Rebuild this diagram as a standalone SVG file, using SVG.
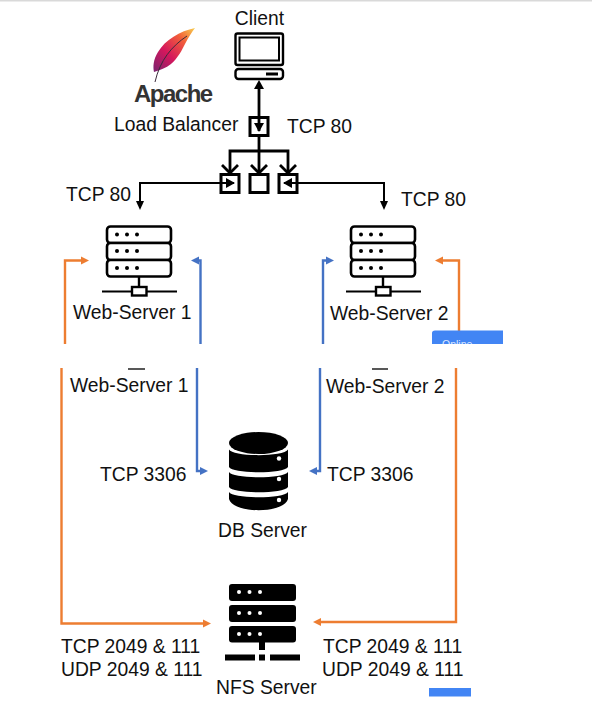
<svg xmlns="http://www.w3.org/2000/svg" width="592" height="713" viewBox="0 0 592 713">
<style>
text{font-family:"Liberation Sans",Arial,sans-serif;font-size:19.300px;fill:#111}
.k{fill:none;stroke:#000;stroke-width:2.800}
.bx{fill:#fff;stroke:#000;stroke-width:3}
.o{fill:none;stroke:#ed7d31;stroke-width:2.400}
.b{fill:none;stroke:#4472c4;stroke-width:2.400}
.dot{fill:#000}
.wd{fill:#fff}
.sb{fill:#000}
</style>
<defs>
<linearGradient id="fe" x1="1" y1="0" x2="0" y2="1">
<stop offset="0" stop-color="#f8d04e"/><stop offset=".28" stop-color="#f2603a"/><stop offset=".62" stop-color="#d5175c"/><stop offset="1" stop-color="#7a2470"/>
</linearGradient>
<g id="srv">
<rect x="1" y="1" width="64" height="16.500" rx="3.500" fill="#fff" stroke="#000" stroke-width="2.600"/>
<rect x="1" y="17.500" width="64" height="17" rx="3.500" fill="#fff" stroke="#000" stroke-width="2.600"/>
<rect x="1" y="34.500" width="64" height="16.500" rx="3.500" fill="#fff" stroke="#000" stroke-width="2.600"/>
<circle class="dot" cx="11" cy="9" r="2"/><circle class="dot" cx="21" cy="9" r="2"/><circle class="dot" cx="31" cy="9" r="2"/>
<circle class="dot" cx="11" cy="25.500" r="2"/><circle class="dot" cx="21" cy="25.500" r="2"/><circle class="dot" cx="31" cy="25.500" r="2"/>
<circle class="dot" cx="11" cy="42.500" r="2"/><circle class="dot" cx="21" cy="42.500" r="2"/><circle class="dot" cx="31" cy="42.500" r="2"/>
<path d="M33 51V62" stroke="#000" stroke-width="2.400" fill="none"/>
<path d="M-4 66H71" stroke="#000" stroke-width="2.200" fill="none"/>
<rect x="26" y="61.500" width="14.500" height="8.500" fill="#fff" stroke="#000" stroke-width="2.400"/>
</g>
</defs>
<rect width="592" height="713" fill="#fff"/>
<rect width="592" height="1.500" fill="#d9d9d9"/>

<g id="connectors">
<path class="k" d="M259 84V131"/>
<path d="M254 89L259 80L264 89Z" fill="#000"/>
<path d="M254 123L259 132L264 123Z" fill="#000"/>
<path class="k" d="M259 135V173M230 173V151H288V173"/>
<path class="k" d="M222 165L230 173L238 165M251 165L259 173L267 165M280 165L288 173L296 165"/>
<path class="k" style="stroke-width:2" d="M234 183H140V208"/>
<path d="M226 178L235 183L226 188Z" fill="#000"/>
<path d="M136 201L140 210L144 201Z" fill="#000"/>
<path class="k" style="stroke-width:2" d="M284 183H384V208"/>
<path d="M292 178L283 183L292 188Z" fill="#000"/>
<path d="M380 201L384 210L388 201Z" fill="#000"/>
<path class="o" d="M65 344V260.500H82"/><path d="M81 256.500L89 260.500L81 264.500Z" fill="#ed7d31"/>
<path class="b" d="M200.500 344V260.500H197"/><path d="M199 256.500L191 260.500L199 264.500Z" fill="#4472c4"/>
<path class="b" d="M323 344V260.500H327"/><path d="M326 256.500L334 260.500L326 264.500Z" fill="#4472c4"/>
<path class="o" d="M459 331V260.500H442"/><path d="M443 256.500L435 260.500L443 264.500Z" fill="#ed7d31"/>
<path class="o" d="M61.500 368V623.500H204"/><path d="M203 619.500L211 623.500L203 627.500Z" fill="#ed7d31"/>
<path class="b" d="M197 368V471H201"/><path d="M200 467L208 471L200 475Z" fill="#4472c4"/>
<path class="b" d="M320 368V471H316"/><path d="M317 467L309 471L317 475Z" fill="#4472c4"/>
<path class="o" d="M456 368V622H320"/><path d="M321 618L313 622L321 626Z" fill="#ed7d31"/>
<path d="M128 369H145M372 369H388" stroke="#222" stroke-width="1.600" fill="none"/>
</g>

<g id="client">
<text x="259.500" y="24.500" text-anchor="middle">Client</text>
<rect x="235.500" y="33.500" width="47.500" height="31.500" rx="2" fill="#fff" stroke="#000" stroke-width="2.400"/>
<rect x="239.500" y="37.500" width="39.500" height="23" fill="#fff" stroke="#000" stroke-width="2"/>
<rect x="235.500" y="69" width="47.500" height="10" rx="3" fill="#fff" stroke="#000" stroke-width="2.400"/>
<rect x="266" y="72.500" width="12" height="3" fill="#000"/>
</g>

<g id="apache">
<path d="M195 28C180 31 165 40 158 52C153 60 153 67 154 72C160 70 166 68 171 64C178 58 182 50 185 44C188 38 192 32 195 28Z" fill="url(#fe)"/>
<path d="M187 36C172 46 160 60 155 82" fill="none" stroke="#3a2a3a" stroke-width="1"/>
<text x="134" y="102" style="font-size:24px;font-weight:bold;letter-spacing:-1.500px;fill:#333">Apache</text>
</g>

<g id="load-balancer">
<text x="114" y="130.500">Load Balancer</text>
<rect class="bx" x="250" y="117.500" width="18" height="18" style="fill:none"/>
<text x="287" y="132.500">TCP 80</text>
</g>

<g id="switch-boxes">
<rect class="bx" x="221" y="174.500" width="18" height="18" style="fill:none"/>
<rect class="bx" x="250" y="174.500" width="18" height="18"/>
<rect class="bx" x="279" y="174.500" width="18" height="18" style="fill:none"/>
</g>
<text id="tcp80-left" x="66" y="200.500">TCP 80</text>
<text id="tcp80-right" x="401" y="205.500">TCP 80</text>

<g id="web-server-1">
<use href="#srv" x="106" y="225.500"/>
<text x="73" y="318.500">Web-Server 1</text>
<text x="70" y="391.500">Web-Server 1</text>
</g>

<g id="web-server-2">
<use href="#srv" x="350" y="225.500"/>
<text x="330" y="319.500">Web-Server 2</text>
<text x="326" y="392.500">Web-Server 2</text>
</g>

<g id="online-badge">
<path d="M432 344V333Q432 330.500 435 330.500H503V344Z" fill="#4285f4"/>
<clipPath id="oc"><rect x="432" y="330" width="71" height="14"/></clipPath>
<text x="442" y="348" clip-path="url(#oc)" style="font-size:10.500px;fill:#dfe9ff">Online</text>
</g>

<g id="db-server">
<ellipse cx="258.500" cy="443" rx="29.500" ry="11" fill="#000"/>
<path d="M229 449.500C233 457 284 457 288 449.500V467C284 474 233 474 229 467Z" fill="#000"/>
<path d="M229 472C233 479 284 479 288 472V487C284 494 233 494 229 487Z" fill="#000"/>
<path d="M229 492C233 499 284 499 288 492V499C284 514 233 514 229 499Z" fill="#000"/>
<circle class="wd" cx="279" cy="458.500" r="2.200"/><circle class="wd" cx="279" cy="479" r="2.200"/><circle class="wd" cx="279" cy="500" r="2.200"/>
<text x="262.500" y="536.500" text-anchor="middle">DB Server</text>
</g>
<text id="tcp3306-left" x="100" y="480.500">TCP 3306</text>
<text id="tcp3306-right" x="327" y="480.500">TCP 3306</text>

<g id="nfs-server">
<rect class="sb" x="229" y="584" width="67" height="17" rx="3"/>
<rect class="sb" x="229" y="605" width="67" height="17" rx="3"/>
<rect class="sb" x="229" y="626" width="67" height="16.500" rx="3"/>
<circle class="wd" cx="239" cy="592" r="2"/><circle class="wd" cx="249.500" cy="592" r="2"/><circle class="wd" cx="260" cy="592" r="2"/>
<circle class="wd" cx="239" cy="613" r="2"/><circle class="wd" cx="249.500" cy="613" r="2"/><circle class="wd" cx="260" cy="613" r="2"/>
<circle class="wd" cx="239" cy="634" r="2"/><circle class="wd" cx="249.500" cy="634" r="2"/><circle class="wd" cx="260" cy="634" r="2"/>
<rect class="sb" x="259" y="642" width="6" height="8"/>
<rect class="sb" x="225" y="654.500" width="30" height="6"/>
<rect class="sb" x="259" y="654.500" width="6" height="6"/>
<rect class="sb" x="270" y="654.500" width="30" height="6"/>
<text x="216" y="693.500">NFS Server</text>
</g>
<g id="nfs-ports">
<text x="61" y="652.500">TCP 2049 &amp; 111</text>
<text x="61" y="675.500">UDP 2049 &amp; 111</text>
<text x="323" y="652.500">TCP 2049 &amp; 111</text>
<text x="322" y="675.500">UDP 2049 &amp; 111</text>
</g>
<rect id="blue-strip" x="429" y="688" width="42" height="8.500" fill="#4285f4"/>
</svg>
